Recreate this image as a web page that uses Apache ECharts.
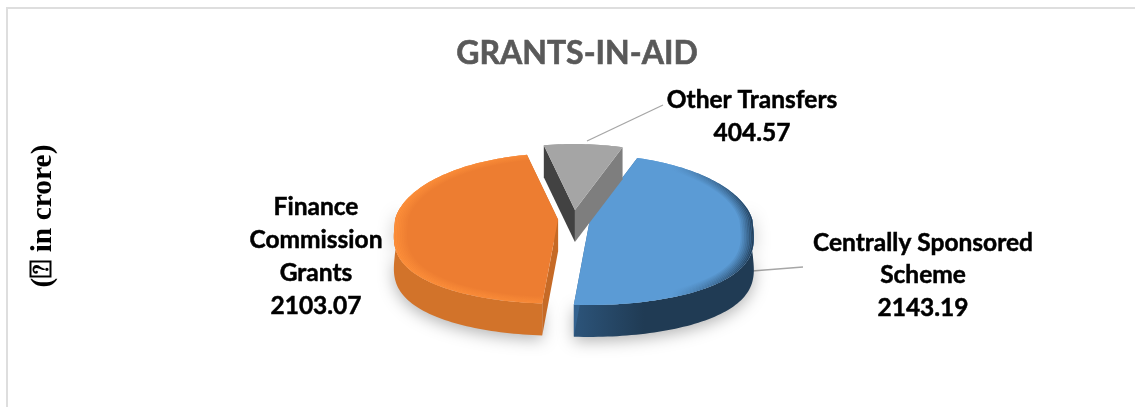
<!DOCTYPE html>
<html>
<head>
<meta charset="utf-8">
<style>
  html, body { margin: 0; padding: 0; background: #fff; }
  #chart { width: 1135px; height: 407px; }
</style>
<script src="https://cdn.jsdelivr.net/npm/echarts@6/dist/echarts.min.js"></script>
</head>
<body>
<div id="chart"></div>
<script>
// Grants-in-aid split, in crore
const categories = ['Centrally Sponsored Scheme', 'Finance Commission Grants', 'Other Transfers'];
const values = [2143.19, 2103.07, 404.57];
const labelLines = [['Centrally Sponsored', 'Scheme'], ['Finance', 'Commission', 'Grants'], ['Other Transfers']];
const titleText = 'GRANTS-IN-AID';
const unitText = '(\u2370 in crore)';

// Tilted-disc projection of the pie, with a little perspective
const CX = 574, CY = 219, RX = 163, RY = 74, PERSPECTIVE = 0.12, DEPTH = 32, EXPLODE = 16;
const NEAR_ROUNDING = 0.7;
const START_DEG = 19;

const skins = [
  { top: '#5B9BD5', wall: ['#33628F', '#203B54'], faces: ['#33628F', '#33628F'],
    bevel: ['#6AA8E4', '#64A3DF', '#5B9BD5', '#5B9BD5', '#223F5B'] },
  { top: '#ED7D31', wall: ['#D2732A', '#9C531C'], faces: ['#C66A26', '#C66A26'],
    bevel: ['#FD8F3A', '#FA8C38', '#F68836', '#ED7D31'] },
  { top: '#A5A5A5', wall: ['#7F7F7F', '#6E6E6E'], faces: ['#424242', '#7E7E7E'],
    bevel: ['#A5A5A5', '#A5A5A5', '#A5A5A5'] }
];

// Each slice's angular span follows clockwise from the top of the disc
const total = values.reduce((a, b) => a + b, 0);
const spans = [];
values.reduce((from, v) => {
  const to = from + v / total * 360;
  spans.push([from, to]);
  return to;
}, START_DEG);

const rad = d => d * Math.PI / 180;

function rimPoint(c, deg, scale, dy) {
  const cos = Math.cos(rad(deg));
  const s = scale / (1 + PERSPECTIVE * cos);
  // the side of the disc nearest the viewer bulges a little
  const depthTerm = cos < 0 ? -Math.pow(-cos, NEAR_ROUNDING) : cos;
  return [
    c[0] + RX * s * Math.sin(rad(deg)),
    c[1] - RY * s * depthTerm + (dy || 0)
  ];
}

function arcPoints(c, a, b, scale, dy) {
  const n = Math.max(2, Math.ceil(Math.abs(b - a) / 1.5));
  const pts = [];
  for (let i = 0; i <= n; i++) pts.push(rimPoint(c, a + (b - a) * i / n, scale, dy));
  return pts;
}

function hGradient(x0, x1, stops) {
  return {
    type: 'linear', global: true, x: x0, y: 0, x2: x1, y2: 0,
    colorStops: stops.map((col, i) => ({ offset: i / (stops.length - 1), color: col }))
  };
}

function renderSlice(params) {
  const i = params.dataIndex;
  const skin = skins[i];
  const [a, b] = spans[i];
  const mid = (a + b) / 2;
  const c = [
    CX + EXPLODE * Math.sin(rad(mid)),
    CY - EXPLODE * 0.56 * Math.cos(rad(mid))
  ];
  const apexLow = [c[0], c[1] + DEPTH];
  const children = [];

  // Outer wall: only the part of the rim that faces the viewer
  const wa = Math.max(a, 80), wb = Math.min(b, 280);
  if (wb > wa) {
    const top = arcPoints(c, wa, wb, 1, 0);
    const low = arcPoints(c, wb, wa, 1, DEPTH);
    children.push({
      type: 'polygon',
      shape: { points: top.concat(low) },
      style: {
        fill: hGradient(c[0] - RX, c[0] + RX,
          i === 0 ? [skin.wall[0], skin.wall[0], skin.wall[1], skin.wall[1]]
                  : [skin.wall[0], skin.wall[0], skin.wall[1]]),
        shadowBlur: 16, shadowColor: 'rgba(0,0,0,0.30)', shadowOffsetY: 4
      }
    });
  }

  // Cut faces along both radial edges
  [[a, 0], [b, 1]].forEach(([deg, k]) => {
    const p = rimPoint(c, deg, 1, 0);
    const q = rimPoint(c, deg, 1, DEPTH);
    children.push({
      type: 'polygon',
      shape: { points: [c, p, q, apexLow] },
      style: { fill: skin.faces[k] }
    });
  });

  // Top surface
  const outline = [c].concat(arcPoints(c, a, b, 1, 0));
  children.push({ type: 'polygon', shape: { points: outline }, style: { fill: skin.top } });

  // Soft bevel around the rim, fading toward the middle of the disc
  const bands = 8;
  for (let s = 0; s < bands; s++) {
    const outer = 1 - s * 0.01, inner = 1 - (s + 1) * 0.01;
    const ring = arcPoints(c, a, b, outer, 0).concat(arcPoints(c, b, a, inner, 0));
    children.push({
      type: 'polygon',
      shape: { points: ring },
      style: {
        fill: hGradient(c[0] - RX, c[0] + RX, skin.bevel),
        opacity: (bands - s) / bands
      }
    });
  }

  return { type: 'group', children };
}

// Label anchors for the three slices
const labelPlaces = [
  { x: 923, y: 243, lh: 32.5 },
  { x: 316, y: 207, lh: 33 },
  { x: 752, y: 100, lh: 33 }
];
const leaders = [
  [[752, 271], [803, 267]],
  null,
  [[587, 141], [663, 105]]
];

const labelFont = 'bold 24.5px Lato, "Open Sans", sans-serif';
const labelGraphics = [];
categories.forEach((name, i) => {
  const lines = labelLines[i].concat(values[i].toFixed(2));
  const place = labelPlaces[i];
  lines.forEach((line, k) => {
    labelGraphics.push({
      type: 'text', x: place.x, y: place.y + k * place.lh, silent: true,
      style: {
        text: line, fill: '#000', align: 'center', verticalAlign: 'middle',
        font: labelFont, stroke: '#000', lineWidth: 0.5
      }
    });
  });
  if (leaders[i]) {
    labelGraphics.push({
      type: 'polyline', silent: true,
      shape: { points: leaders[i] },
      style: { stroke: '#A6A6A6', lineWidth: 1.3, fill: 'none' }
    });
  }
});

const chart = echarts.init(document.getElementById('chart'), null, { renderer: 'canvas' });
chart.setOption({
  animation: false,
  backgroundColor: '#fff',
  title: {
    text: titleText, left: 572, top: 33, textAlign: 'center',
    textStyle: { color: '#595959', fontSize: 32, fontWeight: 'bold', fontFamily: 'Lato, "Open Sans", sans-serif',
      textBorderColor: '#595959', textBorderWidth: 0.6 }
  },
  graphic: [
    // chart frame
    { type: 'polyline', silent: true, shape: { points: [[7, 407], [7, 8], [1135, 8]] },
      style: { stroke: '#DEDEDE', lineWidth: 2, fill: 'none' } },
    { type: 'text', x: 43, y: 216, rotation: Math.PI / 2, silent: true,
      style: { text: unitText, fill: '#000', align: 'center', verticalAlign: 'middle',
        font: 'bold 29.5px "Liberation Serif", "DejaVu Sans", serif' } }
  ].concat(labelGraphics),
  series: [{
    type: 'custom',
    coordinateSystem: 'none',
    renderItem: renderSlice,
    data: values.map((v, i) => ({ name: categories[i], value: v })),
    silent: true
  }]
});
</script>
</body>
</html>
